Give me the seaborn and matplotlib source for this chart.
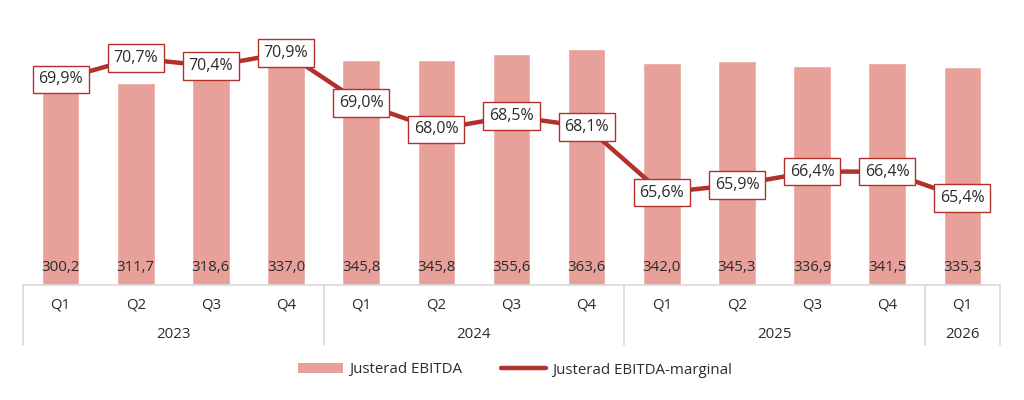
import numpy as np
import pandas as pd
import matplotlib
matplotlib.use("Agg")
import matplotlib.pyplot as plt
import matplotlib.transforms as mtransforms
from matplotlib.patches import Patch
from matplotlib.lines import Line2D
import seaborn as sns

# data
years = ["2023", "2024", "2025", "2026"]
quarters = ["Q1", "Q2", "Q3", "Q4", "Q1", "Q2", "Q3", "Q4", "Q1", "Q2", "Q3", "Q4", "Q1"]
year_of = ["2023"] * 4 + ["2024"] * 4 + ["2025"] * 4 + ["2026"]
ebitda = [300.2, 311.7, 318.6, 337.0, 345.8, 345.8, 355.6, 363.6, 342.0, 345.3, 336.9, 341.5, 335.3]
margin = [69.9, 70.7, 70.4, 70.9, 69.0, 68.0, 68.5, 68.1, 65.6, 65.9, 66.4, 66.4, 65.4]

bar_color = "#E8A09B"
line_color = "#B3302B"
text_color = "#2b2b2b"
grid_color = "#d9d9d9"

sns.set_theme(style="white")
plt.rcParams["font.family"] = ["Open Sans", "DejaVu Sans"]

df = pd.DataFrame({"key": [f"{y} {q}" for y, q in zip(year_of, quarters)],
                   "EBITDA": ebitda, "Marginal": margin})
df["pos"] = np.arange(len(df))

fig = plt.figure(figsize=(10.24, 4.0), dpi=100)
ax = fig.add_axes([23 / 1024, 1 - 285 / 400, 977 / 1024, 265 / 400])

sns.barplot(data=df, x="key", y="EBITDA", order=list(df["key"]), color=bar_color,
            width=0.5, saturation=1, ax=ax)
ax.set_ylim(0, 408)
ax.set_xlim(-0.5, len(df) - 0.5)

# bar value labels near the base
for i, v in enumerate(ebitda):
    ax.annotate(f"{v:.1f}".replace(".", ","), (i, 0), xytext=(0, 12.5), textcoords="offset points",
                ha="center", va="center", fontsize=10.8, color=text_color)

ax2 = ax.twinx()
sns.lineplot(data=df, x="pos", y="Marginal", color=line_color, linewidth=3.2, ax=ax2)
ax2.set_ylim(62.1, 72.15)
for i, m in enumerate(margin):
    ax2.text(i, m, f"{m:.1f}%".replace(".", ","), ha="center", va="center", fontsize=11.5,
             color=text_color, zorder=5,
             bbox=dict(boxstyle="square,pad=0.36", facecolor="white", edgecolor=line_color, linewidth=1))

for a in (ax, ax2):
    a.set_xlabel("")
    a.set_ylabel("")
    a.set_yticks([])
    for s in a.spines.values():
        s.set_visible(False)

ax.set_xticks(np.arange(len(df)))
ax.set_xticklabels(quarters, fontsize=10.8, color=text_color)
ax.tick_params(axis="x", length=0, pad=9)

# category axis frame: baseline, group separators and year labels
trans = mtransforms.blended_transform_factory(ax.transData, ax.transAxes)
ax.plot([-0.5, len(df) - 0.5], [0, 0], transform=trans, color=grid_color, lw=1.2, clip_on=False)
bounds = [-0.5, 3.5, 7.5, 11.5, 12.5]
for b in bounds:
    ax.plot([b, b], [0, -60 / 265], transform=trans, color=grid_color, lw=1.2, clip_on=False)
for y, lo, hi in zip(years, bounds[:-1], bounds[1:]):
    ax.text((lo + hi) / 2, -50 / 265, y, transform=trans, ha="center", va="center",
            fontsize=10.8, color=text_color)

handles = [Patch(facecolor=bar_color, edgecolor="none"),
           Line2D([0], [0], color=line_color, lw=3.2)]
fig.legend(handles, ["Justerad EBITDA", "Justerad EBITDA-marginal"], loc="center",
           bbox_to_anchor=(0.503, 0.075), ncol=2, frameon=False, fontsize=10.8,
           handlelength=3.0, handleheight=0.6, columnspacing=2.6, handletextpad=0.4,
           labelcolor=text_color)

fig.savefig("out.png", dpi=100, facecolor="white")
